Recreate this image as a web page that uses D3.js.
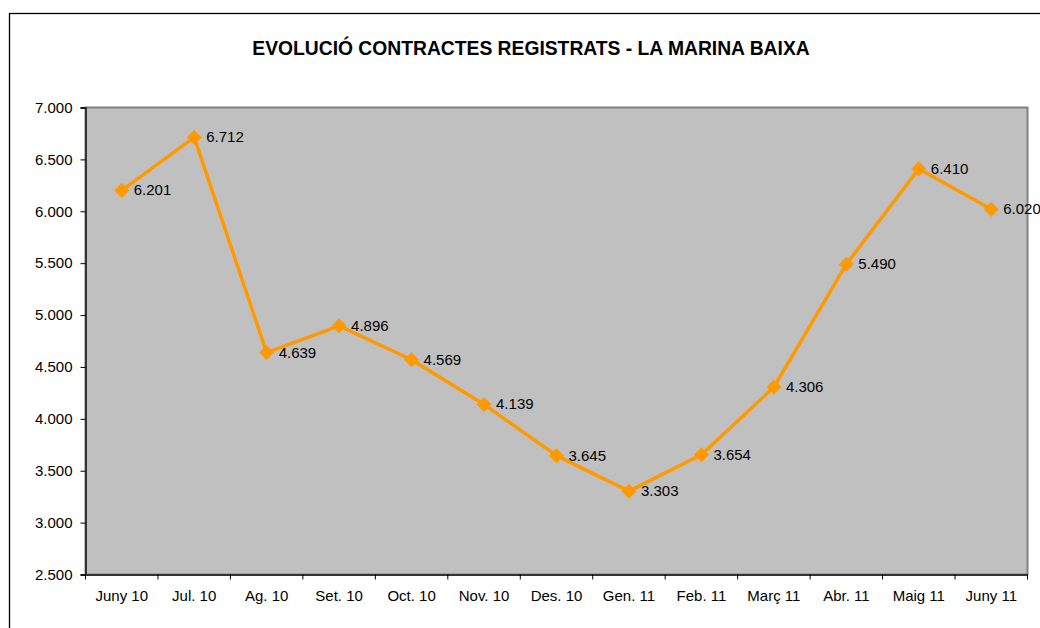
<!DOCTYPE html>
<html>
    <head>
        <meta charset='utf-8'>
        <title>Evolució contractes registrats</title>
        <script src='https://cdn.jsdelivr.net/npm/d3@7'></script>
        <style>
            body { margin:0; background:#fff; }
            svg { display:block; font-family:'Liberation Sans', Arial, sans-serif; }
        </style>
    </head>
    <body>
        <div id='chart'></div>
        <script>
            var months = ["Juny 10", "Jul. 10", "Ag. 10", "Set. 10", "Oct. 10", "Nov. 10", "Des. 10",
                          "Gen. 11", "Feb. 11", "Març 11", "Abr. 11", "Maig 11", "Juny 11"];
            var contracts = [6201, 6712, 4639, 4896, 4569, 4139, 3645, 3303, 3654, 4306, 5490, 6410, 6020];
            var yTicks = [2500, 3000, 3500, 4000, 4500, 5000, 5500, 6000, 6500, 7000];

            var w = 1040;
            var h = 628;
            var plotL = 85.5, plotR = 1027.5, plotT = 107.5, plotB = 574.5;

            var fmt = function(v) { return d3.format(",.0f")(v).replace(/,/g, "."); };

            var svg = d3.select("#chart")
                        .append("svg")
                        .attr("width", w)
                        .attr("height", h);

            // outer frame
            svg.append("rect")
                .attr("x", 9.5).attr("y", 13.5)
                .attr("width", 1040).attr("height", 640)
                .attr("fill", "none")
                .attr("stroke", "#000")
                .attr("stroke-width", 1.3);

            svg.append("text")
                .attr("x", 531).attr("y", 55)
                .attr("text-anchor", "middle")
                .attr("font-size", "19.3px")
                .attr("font-weight", "bold")
                .text("EVOLUCIÓ CONTRACTES REGISTRATS - LA MARINA BAIXA");

            var x = d3.scaleBand().domain(months).range([plotL, plotR]);
            var y = d3.scaleLinear().domain([2500, 7000]).range([plotB, plotT]);

            // plot area
            svg.append("rect")
                .attr("x", plotL).attr("y", plotT)
                .attr("width", plotR - plotL).attr("height", plotB - plotT)
                .attr("fill", "#c0c0c0")
                .attr("stroke", "#808080")
                .attr("stroke-width", 2);

            var yAxis = svg.append("g")
                .attr("transform", "translate(" + plotL + ",0)")
                .call(d3.axisLeft(y).tickValues(yTicks).tickFormat(fmt).tickSize(5).tickPadding(8));

            var xAxis = svg.append("g")
                .attr("transform", "translate(0," + plotB + ")")
                .call(d3.axisBottom(x).tickSize(0).tickPadding(16));

            // category boundary ticks
            svg.selectAll("line.xtick")
                .data(d3.range(months.length + 1))
                .enter()
                .append("line")
                .attr("class", "xtick")
                .attr("x1", function(d) { return plotL + d * x.step(); })
                .attr("x2", function(d) { return plotL + d * x.step(); })
                .attr("y1", plotB)
                .attr("y2", plotB + 5)
                .attr("stroke", "#000");

            [yAxis, xAxis].forEach(function(a) {
                a.select(".domain").attr("stroke", "#333").attr("stroke-width", 2);
                a.selectAll(".tick line").attr("stroke", "#000");
                a.selectAll("text")
                    .attr("font-family", "'Liberation Sans', Arial, sans-serif")
                    .attr("font-size", "15px")
                    .attr("fill", "#000");
            });

            var cx = function(d, i) { return x(months[i]) + x.bandwidth() / 2; };

            var line = d3.line()
                .x(function(d, i) { return cx(d, i); })
                .y(function(d) { return y(d); });

            svg.append("path")
                .datum(contracts)
                .attr("d", line)
                .attr("fill", "none")
                .attr("stroke", "#ff9900")
                .attr("stroke-width", 3.5)
                .attr("stroke-linejoin", "round");

            svg.selectAll("path.marker")
                .data(contracts)
                .enter()
                .append("path")
                .attr("class", "marker")
                .attr("d", "M0,-7.5L7.5,0L0,7.5L-7.5,0Z")
                .attr("transform", function(d, i) { return "translate(" + cx(d, i) + "," + y(d) + ")"; })
                .attr("fill", "#ff9900");

            svg.selectAll("text.label")
                .data(contracts)
                .enter()
                .append("text")
                .attr("class", "label")
                .attr("x", function(d, i) { return cx(d, i) + 12; })
                .attr("y", function(d) { return y(d) + 5; })
                .attr("font-size", "15px")
                .attr("fill", "#000")
                .text(fmt);
        </script>
    </body>
</html>
